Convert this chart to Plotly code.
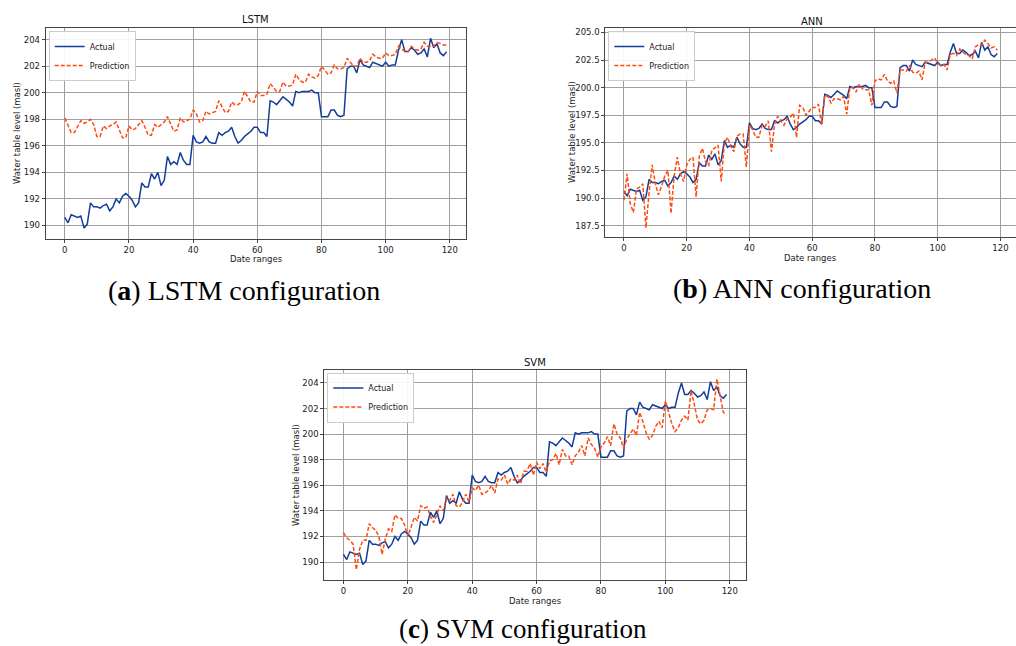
import plotly.graph_objects as go

x_vals = list(range(120))

actual = [190.6, 190.2, 190.8, 190.7, 190.6, 190.7, 189.8, 190.1, 191.7, 191.4,
          191.4, 191.3, 191.5, 191.6, 191.1, 191.4, 192.0, 191.7, 192.2, 192.4,
          192.2, 191.9, 191.4, 191.7, 193.2, 192.9, 192.9, 193.9, 193.5, 194.0,
          193.0, 193.4, 195.2, 194.6, 194.8, 194.6, 195.5, 194.9, 194.6, 194.6,
          196.8, 196.3, 196.2, 196.3, 196.7, 196.3, 196.2, 196.2, 197.0, 196.8,
          197.0, 197.1, 197.4, 196.7, 196.2, 196.4, 196.7, 196.9, 197.1, 197.4,
          197.4, 197.0, 197.0, 196.7, 199.4, 199.3, 199.1, 199.4, 199.7, 199.5,
          199.3, 199.0, 200.1, 200.0, 200.1, 200.1, 200.1, 200.2, 200.0, 200.0,
          198.2, 198.2, 198.2, 198.7, 198.7, 198.3, 198.2, 198.3, 201.8, 202.0,
          202.0, 201.5, 202.5, 202.1, 202.0, 201.9, 202.3, 202.2, 202.1, 202.0,
          202.3, 202.0, 202.1, 202.1, 203.2, 204.0, 203.1, 203.1, 203.4, 203.2,
          202.9, 203.0, 203.3, 202.7, 204.1, 203.4, 203.7, 203.0, 202.8, 203.1]

lstm_pred = [198.1, 197.6, 197.0, 197.0, 197.5, 197.9, 197.7, 197.8, 198.0, 197.6,
             196.7, 196.7, 197.5, 197.3, 197.5, 197.6, 197.8, 197.2, 196.6, 196.6,
             197.5, 197.2, 197.3, 197.6, 197.9, 197.4, 196.8, 196.8, 197.6, 197.4,
             197.6, 197.8, 198.2, 197.6, 197.1, 197.2, 198.1, 197.8, 197.9, 198.0,
             198.7, 198.4, 197.8, 197.9, 198.6, 198.4, 198.5, 198.6, 199.4, 198.9,
             198.5, 198.6, 199.3, 199.1, 199.1, 199.3, 200.1, 199.7, 199.3, 199.3,
             200.1, 199.8, 199.8, 199.9, 200.7, 200.4, 200.1, 200.1, 200.8, 200.5,
             200.5, 200.6, 201.4, 201.0, 200.8, 200.8, 201.4, 201.2, 201.1, 201.3,
             202.0, 201.7, 201.4, 201.5, 202.1, 201.8, 201.8, 201.9, 202.6, 202.3,
             202.0, 202.0, 202.6, 202.3, 202.3, 202.4, 202.9, 202.7, 202.6, 202.6,
             203.0, 202.8, 202.8, 202.9, 203.5, 203.3, 203.1, 203.1, 203.5, 203.3,
             203.2, 203.3, 203.8, 203.5, 203.5, 203.5, 203.8, 203.7, 203.6, 203.6]

ann_pred = [189.8, 192.2, 189.5, 188.7, 190.8, 191.0, 191.3, 187.3, 190.5, 193.0,
            191.3, 190.3, 191.1, 192.0, 192.5, 188.6, 192.0, 193.7, 192.2, 191.5,
            193.0, 193.5, 193.7, 190.1, 193.8, 194.5, 193.3, 192.9, 194.3, 194.6,
            194.8, 191.5, 195.0, 195.5, 194.7, 194.2, 195.6, 195.8, 195.8, 192.8,
            196.6, 196.2, 195.5, 195.5, 196.6, 196.5, 197.0, 194.2, 196.7, 197.4,
            197.0, 196.6, 197.2, 197.3, 197.7, 195.5, 198.4, 198.2, 197.5, 197.9,
            198.2, 198.2, 198.5, 196.6, 199.3, 199.2, 198.6, 199.0, 199.0, 198.9,
            199.2, 197.6, 200.0, 200.0, 199.6, 200.3, 199.9, 199.8, 199.8, 198.4,
            200.6, 200.8, 200.7, 201.2, 200.6, 200.4, 200.6, 199.5, 201.6, 201.6,
            201.5, 202.0, 201.4, 201.3, 201.5, 200.7, 202.3, 202.3, 202.5, 202.7,
            202.2, 202.0, 202.1, 201.6, 203.0, 203.1, 202.9, 203.5, 203.2, 203.0,
            202.9, 202.6, 203.7, 203.9, 203.8, 204.3, 204.0, 203.6, 203.7, 203.4]

svm_pred = [192.3, 191.9, 191.7, 191.4, 189.4, 191.0, 191.7, 191.7, 193.0, 192.7,
            192.5, 192.0, 190.6, 191.8, 192.6, 192.4, 193.7, 193.4, 193.4, 192.9,
            192.0, 192.8, 193.5, 193.2, 194.4, 194.2, 194.3, 193.6, 193.1, 193.7,
            194.4, 194.0, 195.0, 194.8, 195.3, 194.4, 194.3, 194.7, 195.3, 194.7,
            195.8, 195.6, 196.0, 195.3, 195.4, 195.6, 196.0, 195.4, 196.5, 196.4,
            196.8, 196.1, 196.5, 196.4, 196.8, 196.1, 197.1, 197.1, 197.7, 196.8,
            197.8, 197.3, 197.7, 197.0, 197.9, 198.0, 198.5, 197.6, 198.8, 198.3,
            198.3, 197.6, 198.3, 198.6, 199.1, 198.3, 199.7, 199.2, 198.9, 198.2,
            199.0, 199.3, 199.8, 199.1, 200.8, 200.0, 199.7, 198.9, 199.6, 200.0,
            200.4, 199.9, 201.7, 201.0, 200.1, 199.6, 199.9, 200.6, 201.0, 200.5,
            202.6, 201.7, 200.8, 200.2, 200.5, 201.1, 201.4, 201.1, 203.4, 202.3,
            201.1, 200.8, 201.1, 201.9, 202.0, 201.9, 204.3, 203.0, 201.7, 201.5]

panel_titles = ["LSTM", "ANN", "SVM"]
captions = ["(<b>a</b>) LSTM configuration", "(<b>b</b>) ANN configuration",
            "(<b>c</b>) SVM configuration"]
x_label = "Date ranges"
y_label = "Water table level (masl)"
x_ticks = [0, 20, 40, 60, 80, 100, 120]
lstm_yticks = [190, 192, 194, 196, 198, 200, 202, 204]
ann_yticks = [187.5, 190.0, 192.5, 195.0, 197.5, 200.0, 202.5, 205.0]
svm_yticks = [190, 192, 194, 196, 198, 200, 202, 204]

W, H = 1016, 646
ACTUAL_COLOR = "#143c9a"
PRED_COLOR = "#ff4a10"

fig = go.Figure()

preds = [lstm_pred, ann_pred, svm_pred]
for i, pred in enumerate(preds):
    sfx = "" if i == 0 else str(i + 1)
    leg = "legend" if i == 0 else "legend" + str(i + 1)
    fig.add_trace(go.Scatter(x=x_vals, y=actual, mode="lines", name="Actual",
                             line=dict(color=ACTUAL_COLOR, width=1.5),
                             xaxis="x" + sfx, yaxis="y" + sfx, legend=leg))
    fig.add_trace(go.Scatter(x=x_vals, y=pred, mode="lines", name="Prediction",
                             line=dict(color=PRED_COLOR, width=1.5, dash="4px,2px"),
                             xaxis="x" + sfx, yaxis="y" + sfx, legend=leg))

def px_x(v):
    return v / W

def px_y(v):
    return 1 - v / H

# plot boxes in pixels: (left, right, top, bottom)
boxes = [(45.7, 465.7, 28, 238.7), (605.3, 1016, 28, 236.7), (324.3, 745.7, 369.5, 580)]
yranges = [[189.0, 204.88], [186.5, 205.4], [188.6, 205.05]]
yticks = [lstm_yticks, ann_yticks, svm_yticks]
yfmt = ["d", ".1f", "d"]

tickfont = dict(family="DejaVu Sans", size=8.5, color="#222")
axis_common = dict(showline=True, mirror=True, linecolor="#444", linewidth=1,
                   showgrid=True, gridcolor="#a0a0a0", gridwidth=1,
                   ticks="outside", ticklen=3, tickcolor="#444",
                   tickfont=tickfont, zeroline=False, automargin=False)

layout = {}
for i, (l, r, t, b) in enumerate(boxes):
    sfx = "" if i == 0 else str(i + 1)
    layout["xaxis" + sfx] = dict(domain=[px_x(l), px_x(r)], anchor="y" + sfx,
                                 range=[-5.95, 124.95], tickvals=x_ticks, **axis_common)
    layout["yaxis" + sfx] = dict(domain=[px_y(b), px_y(t)], anchor="x" + sfx,
                                 range=yranges[i], tickvals=yticks[i],
                                 tickformat=yfmt[i], **axis_common)
    leg = "legend" if i == 0 else "legend" + str(i + 1)
    layout[leg] = dict(x=px_x(l + 3), y=px_y(t + 3), xanchor="left", yanchor="top",
                       bgcolor="rgba(255,255,255,0.9)", bordercolor="#ccc", borderwidth=1,
                       font=dict(family="DejaVu Sans", size=8, color="#222"),
                       tracegroupgap=0, itemwidth=30)

fig.update_layout(width=W, height=H, margin=dict(l=0, r=0, t=0, b=0),
                  paper_bgcolor="white", plot_bgcolor="white", **layout)

annotations = []

def add_text(cx, cy, txt, font, angle=0):
    annotations.append(dict(x=px_x(cx), y=px_y(cy), xref="paper", yref="paper",
                            xanchor="center", yanchor="middle", text=txt,
                            showarrow=False, textangle=angle, font=font))

title_pos = [(255.7, 19), (812, 21), (535, 362)]
for (cx, cy), txt in zip(title_pos, panel_titles):
    add_text(cx, cy, txt, dict(family="DejaVu Sans", size=10, color="#111"))
xlab_pos = [(256, 259), (810, 258), (535, 601)]
for cx, cy in xlab_pos:
    add_text(cx, cy, x_label, dict(family="DejaVu Sans", size=8.5, color="#222"))
ylab_pos = [(17, 133), (572, 132), (296, 475)]
for cx, cy in ylab_pos:
    add_text(cx, cy, y_label, dict(family="DejaVu Sans", size=8.5, color="#222"), -90)
cap_pos = [(244, 290), (802, 288), (523, 629)]
cap_sizes = [28, 28, 27]
for (cx, cy), txt, sz in zip(cap_pos, captions, cap_sizes):
    add_text(cx, cy, txt, dict(family="Liberation Serif", size=sz, color="#000"))

fig.update_layout(annotations=annotations)
fig.write_html("out.html", config={"displayModeBar": False},
               post_script="document.body.style.margin='0';document.body.style.overflow='hidden';")
